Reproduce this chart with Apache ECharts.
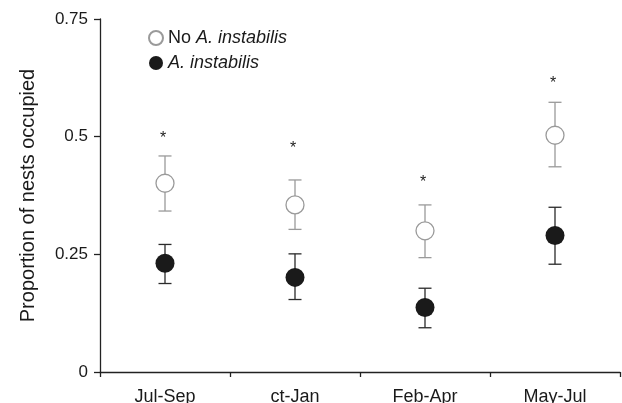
<!DOCTYPE html>
<html>
<head>
<meta charset="utf-8">
<script src="https://cdn.jsdelivr.net/npm/echarts@6/dist/echarts.min.js"></script>
<style>
  html, body { margin: 0; padding: 0; background: #fff; }
  #chart { width: 622px; height: 403px; }
</style>
</head>
<body>
<div id="chart"></div>
<script>
// 数据
const categories = ['Jul-Sep', 'ct-Jan', 'Feb-Apr', 'May-Jul']
const yTicks = [0, 0.25, 0.5, 0.75]
const noMean = [0.401, 0.355, 0.300, 0.503]
const noLow = [0.342, 0.303, 0.243, 0.436]
const noHigh = [0.459, 0.408, 0.355, 0.573]
const aMean = [0.231, 0.201, 0.137, 0.290]
const aLow = [0.188, 0.154, 0.094, 0.229]
const aHigh = [0.271, 0.251, 0.178, 0.350]
const starY = [0.505, 0.484, 0.411, 0.622]

const font = 'Liberation Sans, Arial, sans-serif'
const myChart = echarts.init(document.getElementById('chart'))

// 误差线
const errorBar = (color) => (params, api) => {
  const x = api.value(0)
  const lo = api.coord([x, api.value(1)])
  const hi = api.coord([x, api.value(2)])
  const w = 6.5
  const style = { stroke: color, lineWidth: 1.3 }
  return {
    type: 'group',
    children: [
      { type: 'line', shape: { x1: hi[0], y1: hi[1], x2: lo[0], y2: lo[1] }, style },
      { type: 'line', shape: { x1: hi[0] - w, y1: hi[1], x2: hi[0] + w, y2: hi[1] }, style },
      { type: 'line', shape: { x1: lo[0] - w, y1: lo[1], x2: lo[0] + w, y2: lo[1] }, style }
    ]
  }
}

const option = {
  animation: false,
  grid: { left: 100, right: 2, top: 19, bottom: 31, containLabel: false, outerBoundsMode: 'none' },
  legend: {
    orient: 'vertical',
    left: 143,
    top: 24,
    itemGap: 7,
    itemWidth: 14,
    itemHeight: 14,
    data: [
      { name: 'No A. instabilis', icon: 'circle' },
      { name: 'A. instabilis', icon: 'circle' }
    ],
    formatter: (name) => name === 'No A. instabilis' ? 'No {i|A. instabilis}' : '{i|A. instabilis}',
    textStyle: {
      fontFamily: font, fontSize: 18, color: '#1a1a1a',
      rich: { i: { fontStyle: 'italic', fontFamily: font, fontSize: 18, color: '#1a1a1a' } }
    },
    selectedMode: false
  },
  xAxis: {
    type: 'category',
    data: categories,
    boundaryGap: true,
    axisLine: { lineStyle: { color: '#222', width: 1.3 } },
    axisTick: { show: true, alignWithLabel: false, length: 5, lineStyle: { color: '#222', width: 1.3 } },
    axisLabel: { color: '#1a1a1a', fontFamily: font, fontSize: 18, margin: 16 },
    splitLine: { show: false }
  },
  yAxis: {
    type: 'value',
    min: 0,
    max: 0.75,
    interval: 0.25,
    name: 'Proportion of nests occupied',
    nameLocation: 'middle',
    nameGap: 62,
    nameTextStyle: { fontFamily: font, fontSize: 20, color: '#1a1a1a' },
    axisLine: { show: true, lineStyle: { color: '#222', width: 1.3 } },
    axisTick: { show: true, length: 6, lineStyle: { color: '#222', width: 1.3 } },
    axisLabel: {
      color: '#1a1a1a', fontFamily: font, fontSize: 17, margin: 12,
      formatter: (v) => yTicks.includes(v) ? String(v) : ''
    },
    splitLine: { show: false }
  },
  series: [
    {
      type: 'custom',
      renderItem: errorBar('#9a9a9a'),
      data: categories.map((c, i) => [i, noLow[i], noHigh[i]]),
      z: 1
    },
    {
      type: 'custom',
      renderItem: errorBar('#2a2a2a'),
      data: categories.map((c, i) => [i, aLow[i], aHigh[i]]),
      z: 1
    },
    {
      name: 'No A. instabilis',
      type: 'scatter',
      symbol: 'circle',
      symbolSize: 18,
      itemStyle: { color: '#fff', borderColor: '#9a9a9a', borderWidth: 1.3, opacity: 1 },
      data: noMean,
      z: 3
    },
    {
      name: 'A. instabilis',
      type: 'scatter',
      symbol: 'circle',
      symbolSize: 19,
      itemStyle: { color: '#1a1a1a', opacity: 1 },
      data: aMean,
      z: 3
    },
    {
      type: 'scatter',
      symbol: 'circle',
      symbolSize: 1,
      itemStyle: { color: 'rgba(0,0,0,0)', opacity: 1 },
      data: starY,
      label: {
        show: true,
        formatter: '*',
        position: 'inside',
        offset: [-2, 4],
        color: '#222',
        fontFamily: font,
        fontSize: 16
      },
      silent: true,
      z: 4
    }
  ]
}

myChart.setOption(option)
window.addEventListener('resize', function () {
  myChart.resize()
})
</script>
</body>
</html>
